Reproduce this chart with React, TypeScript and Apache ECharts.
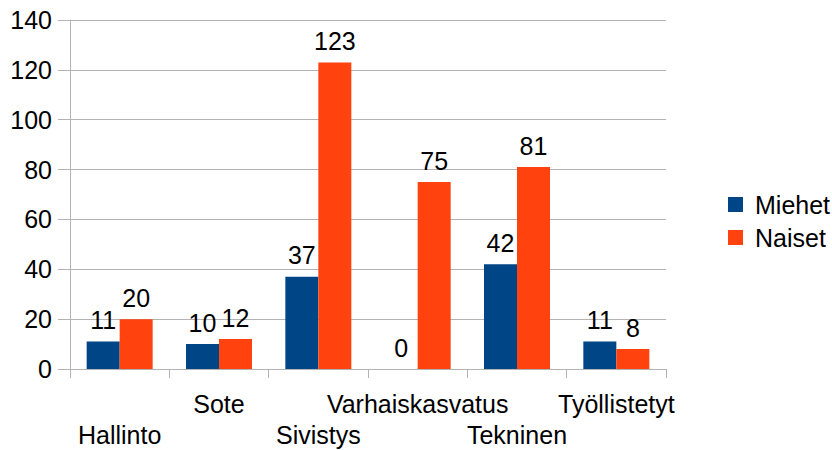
import React, { useEffect, useRef } from "react";
import * as echarts from "echarts";

const categories = ["Hallinto", "Sote", "Sivistys", "Varhaiskasvatus", "Tekninen", "Työllistetyt"];
const miehet = [11, 10, 37, 0, 42, 11];
const naiset = [20, 12, 123, 75, 81, 8];
const seriesNames = ["Miehet", "Naiset"];

const FONT = "'Liberation Sans', Arial, sans-serif";
const GRAY = "#b3b3b3";
const FS = 25;

export default function App() {
  const ref = useRef<HTMLDivElement>(null);
  useEffect(() => {
    document.body.style.margin = "0";
    const chart = echarts.init(ref.current!, null, { renderer: "svg" });
    const label = {
      show: true,
      position: "top",
      distance: 9,
      color: "#000",
      fontSize: FS,
      fontFamily: FONT,
    };
    chart.setOption({
      animation: false,
      textStyle: { fontFamily: FONT },
      grid: { left: 70, right: 166, top: 20, bottom: 79, containLabel: false },
      legend: {
        orient: "vertical",
        left: 728,
        top: 192,
        padding: 0,
        itemWidth: 15,
        itemHeight: 15,
        itemGap: 8,
        icon: "rect",
        data: seriesNames,
        textStyle: { fontSize: FS, color: "#000", fontFamily: FONT, padding: [0, 0, 0, 7] },
      },
      xAxis: {
        type: "category",
        data: categories,
        axisLine: { show: true, lineStyle: { color: GRAY, width: 1 } },
        axisTick: { show: true, length: 9, alignWithLabel: false, lineStyle: { color: GRAY } },
        axisLabel: {
          interval: 0,
          margin: 19,
          fontSize: FS,
          lineHeight: 31,
          color: "#000",
          fontFamily: FONT,
          formatter: (v: string, i: number) => (i % 2 === 0 ? "\n" + v : v),
        },
      },
      yAxis: {
        type: "value",
        min: 0,
        max: 140,
        interval: 20,
        axisLine: { show: true, lineStyle: { color: GRAY, width: 1 } },
        axisTick: { show: true, length: 12, lineStyle: { color: GRAY } },
        splitLine: { show: true, lineStyle: { color: GRAY, width: 1 } },
        axisLabel: { margin: 18, fontSize: FS, color: "#000", fontFamily: FONT },
      },
      series: [
        {
          name: seriesNames[0],
          type: "bar",
          data: miehet,
          barWidth: 33,
          barGap: "0%",
          itemStyle: { color: "#004586" },
          label,
        },
        {
          name: seriesNames[1],
          type: "bar",
          data: naiset,
          barWidth: 33,
          barGap: "0%",
          itemStyle: { color: "#ff420e" },
          label,
        },
      ],
    });
    return () => chart.dispose();
  }, []);
  return <div ref={ref} style={{ width: 832, height: 450 }} />;
}
